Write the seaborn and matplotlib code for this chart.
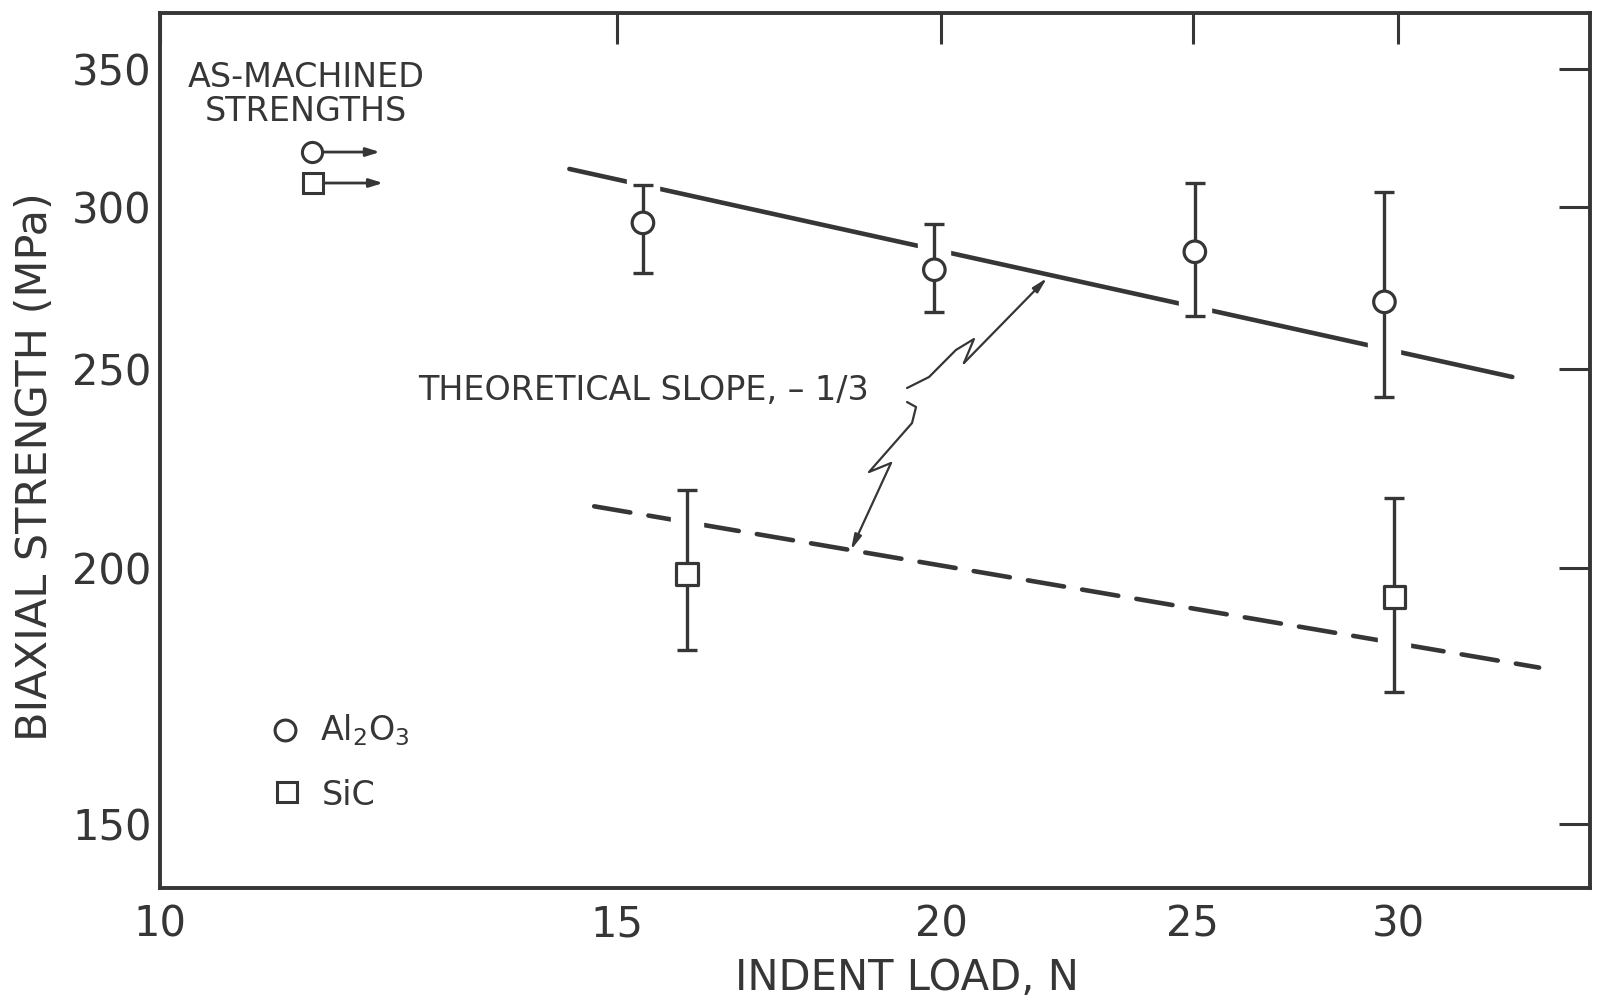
import numpy as np
import pandas as pd
import matplotlib
matplotlib.use("Agg")
import matplotlib.pyplot as plt
import seaborn as sns
from matplotlib.ticker import FixedLocator, FixedFormatter, NullLocator

# ---------------- data ----------------
al2o3_load = [15.35, 19.88, 25.05, 29.64]
al2o3_strength = [294.6, 279.5, 285.2, 269.6]
al2o3_low = [278.4, 266.6, 265.4, 242.3]
al2o3_high = [307.4, 294.3, 308.1, 305.0]

sic_load = [15.96, 29.9]
sic_strength = [198.6, 193.6]
sic_low = [182.3, 174.0]
sic_high = [218.3, 216.3]

theory_al_load = [14.38, 33.2]
theory_al_strength = [313.0, 247.8]
theory_sic_load = [14.70, 34.0]
theory_sic_strength = [214.3, 178.8]

x_ticks = [10, 15, 20, 25, 30]
x_tick_labels = ["10", "15", "20", "25", "30"]
y_ticks = [150, 200, 250, 300, 350]
y_tick_labels = ["150", "200", "250", "300", "350"]

INK = "#363636"

sns.set_style("white")
plt.rcParams["font.family"] = ["DejaVu Sans"]
plt.rcParams["text.color"] = INK

fig = plt.figure(figsize=(15.97, 10.01), dpi=100)
ax = fig.add_axes([0.1002, 0.1129, 0.8954, 0.8741])
ax.set_xscale("log")
ax.set_yscale("log")
ax.set_xlim(10.0, 35.57)
ax.set_ylim(139.6, 372.9)

df_pts = pd.DataFrame({
    "load": al2o3_load + sic_load,
    "strength": al2o3_strength + sic_strength,
    "material": ["Al2O3"] * len(al2o3_load) + ["SiC"] * len(sic_load),
})

# theoretical lines
sns.lineplot(x=theory_al_load, y=theory_al_strength, ax=ax, color=INK,
             lw=3.3, zorder=2, solid_capstyle="round")
sns.lineplot(x=theory_sic_load, y=theory_sic_strength, ax=ax, color=INK,
             lw=3.3, zorder=2, linestyle=(0, (8, 4)),
             dash_capstyle="round")

# error bars; a white band under each bar breaks the lines it crosses
for xs, ys, lo, hi in [(al2o3_load, al2o3_strength, al2o3_low, al2o3_high),
                       (sic_load, sic_strength, sic_low, sic_high)]:
    gap = ax.vlines(xs, lo, hi, colors="white", linewidth=24, zorder=2.5)
    gap.set_capstyle("projecting")
    ys_a = np.array(ys)
    err = [ys_a - np.array(lo), np.array(hi) - ys_a]
    ax.errorbar(xs, ys, yerr=err, fmt="none", ecolor=INK,
                elinewidth=2.4, capsize=7.2, capthick=2.4, zorder=3)

# points
sns.scatterplot(data=df_pts, x="load", y="strength", style="material",
                markers={"Al2O3": "o", "SiC": "s"}, s=240, color="white",
                edgecolor=INK, linewidth=2.3, legend=False, zorder=5, ax=ax)

# axes styling
for sp in ax.spines.values():
    sp.set_linewidth(2.8)
    sp.set_color(INK)
    sp.set_visible(True)

ax.xaxis.set_major_locator(FixedLocator(x_ticks))
ax.xaxis.set_major_formatter(FixedFormatter(x_tick_labels))
ax.xaxis.set_minor_locator(NullLocator())
ax.yaxis.set_major_locator(FixedLocator(y_ticks))
ax.yaxis.set_major_formatter(FixedFormatter(y_tick_labels))
ax.yaxis.set_minor_locator(NullLocator())
ax.tick_params(axis="both", which="major", direction="in", length=22,
               width=2.2, color=INK, labelcolor=INK, labelsize=30,
               top=True, right=True)
ax.tick_params(axis="x", pad=11)
ax.tick_params(axis="y", pad=6)

ax.set_xlabel("INDENT LOAD, N", fontsize=30, color=INK)
ax.xaxis.set_label_coords(0.522, -0.079)
ax.set_ylabel("BIAXIAL STRENGTH (MPa)", fontsize=31, color=INK)
ax.yaxis.set_label_coords(-0.073, 0.482)

# as-machined annotation
ax.text(0.1021, 0.907, "AS-MACHINED\nSTRENGTHS", transform=ax.transAxes,
        ha="center", va="center", fontsize=24, linespacing=1.05,
        color=INK, multialignment="center")
ax.plot([0.1063], [0.8411], transform=ax.transAxes, marker="o", ms=14.5,
        mfc="white", mec=INK, mew=2.2, ls="none", zorder=6)
ax.plot([0.1070], [0.8057], transform=ax.transAxes, marker="s", ms=14.5,
        mfc="white", mec=INK, mew=2.2, ls="none", zorder=6)
for y0, x0, x1 in [(0.8411, 0.1147, 0.1538), (0.8057, 0.1154, 0.1560)]:
    ax.annotate("", xy=(x1, y0), xytext=(x0, y0), xycoords="axes fraction",
                arrowprops=dict(arrowstyle="-|>,head_length=0.8,head_width=0.25",
                                lw=2.0, color=INK, shrinkA=0, shrinkB=0))

# theoretical slope label with zig-zag arrows
ax.text(0.1804, 0.5691, "THEORETICAL SLOPE, \u2013 1/3", transform=ax.transAxes,
        ha="left", va="center", fontsize=24, color=INK)
up_path = [(0.5224, 0.5714), (0.5378, 0.5840), (0.5566, 0.6149),
           (0.5692, 0.6274), (0.5622, 0.6000)]
up_head = (0.6203, 0.6971)
lo_path = [(0.5224, 0.5554), (0.5287, 0.5497), (0.5259, 0.5314),
           (0.4958, 0.4754), (0.5112, 0.4857)]
lo_head = (0.4832, 0.3863)
for path, head in [(up_path, up_head), (lo_path, lo_head)]:
    px, py = zip(*path)
    ax.plot(px, py, transform=ax.transAxes, color=INK, lw=1.6, zorder=6,
            solid_joinstyle="round")
    ax.annotate("", xy=head, xytext=path[-1], xycoords="axes fraction",
                arrowprops=dict(arrowstyle="-|>,head_length=0.9,head_width=0.22",
                                lw=1.6, color=INK, shrinkA=0, shrinkB=0),
                zorder=6)

# key
ax.plot([0.0874], [0.1806], transform=ax.transAxes, marker="o", ms=15,
        mfc="white", mec=INK, mew=2.2, ls="none", zorder=6)
ax.plot([0.0888], [0.1097], transform=ax.transAxes, marker="s", ms=15,
        mfc="white", mec=INK, mew=2.2, ls="none", zorder=6)
ax.text(0.1119, 0.169, "Al$_2$O$_3$", transform=ax.transAxes, ha="left",
        va="baseline", fontsize=24, color=INK)
ax.text(0.1133, 0.0949, "SiC", transform=ax.transAxes, ha="left",
        va="baseline", fontsize=24, color=INK)

fig.savefig("out.png", dpi=100, facecolor="white")
